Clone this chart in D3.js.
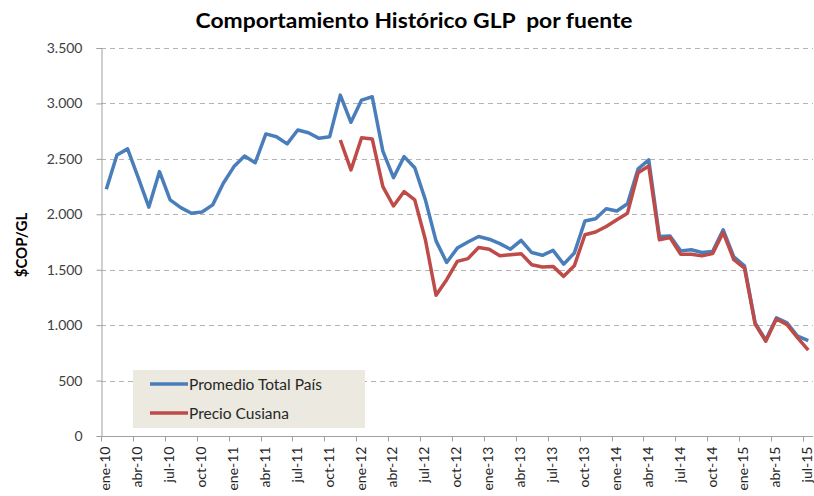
<!DOCTYPE html>
<html>
<head>
<meta charset="utf-8">
<script src="https://cdn.jsdelivr.net/npm/d3@7"></script>
<style>
  body { margin: 0; background: #fff; }
  svg { display: block; font-family: Lato, "Open Sans", sans-serif; }
</style>
</head>
<body>
<svg id="chart" width="814" height="496"></svg>
<script>
const years = ["10", "11", "12", "13", "14", "15"];
const monthNames = ["ene","feb","mar","abr","may","jun","jul","ago","sep","oct","nov","dic"];
const categories = [];
years.forEach(y => monthNames.forEach(m => categories.push(m + "-" + y)));
categories.splice(categories.indexOf("jul-15") + 1);

const promedioTotalPais = [
  2225, 2535, 2590, 2330, 2065, 2385, 2130, 2060, 2010, 2020,
  2085, 2280, 2430, 2525, 2465, 2725, 2700, 2635, 2760, 2735,
  2685, 2700, 3075, 2830, 3030, 3060, 2570, 2330, 2520, 2420,
  2130, 1760, 1565, 1695, 1750, 1800, 1775, 1735, 1685, 1765,
  1655, 1630, 1675, 1550, 1650, 1940, 1960, 2050, 2030, 2095,
  2410, 2490, 1800, 1805, 1670, 1680, 1655, 1665, 1860, 1615,
  1535, 1020, 865, 1065, 1020, 900, 860
];
const precioCusiana = [
  null, null, null, null, null, null, null, null, null, null,
  null, null, null, null, null, null, null, null, null, null,
  null, null, 2670, 2400, 2690, 2680, 2250, 2075, 2205, 2130,
  1770, 1270, 1410, 1575, 1600, 1700, 1685, 1625, 1635, 1645,
  1545, 1525, 1530, 1440, 1535, 1815, 1840, 1890, 1950, 2010,
  2375, 2435, 1770, 1790, 1640, 1640, 1625, 1645, 1835, 1590,
  1515, 1010, 855, 1055, 1005, 885, 775
];
const yTicks = [0, 500, 1000, 1500, 2000, 2500, 3000, 3500];
const seriesNames = ["Promedio Total País", "Precio Cusiana"];
const seriesColors = ["#4a7ebb", "#be4b48"];
const title = "Comportamiento Histórico GLP  por fuente";
const yTitle = "$COP/GL";

const svg = d3.select("#chart");
const m = { left: 101, right: 1, top: 48, bottom: 60 };
const W = 814, H = 496;
const plotRight = W - m.right;
const plotBottom = 436;

const x = d3.scaleBand().domain(categories).range([m.left, m.left + 67 * 10.636]);
const y = d3.scaleLinear().domain([0, 3500]).range([plotBottom, m.top]);
const fmt = v => d3.format(",")(v).replace(/,/g, ".");

// gridlines
svg.append("g").selectAll("line").data(yTicks.filter(d => d > 0)).join("line")
  .attr("x1", m.left).attr("x2", plotRight)
  .attr("y1", d => Math.round(y(d)) + 0.5).attr("y2", d => Math.round(y(d)) + 0.5)
  .attr("stroke", "#b4b4b4").attr("stroke-width", 1).attr("stroke-dasharray", "5,4");

// y axis
const yAxis = svg.append("g").attr("transform", `translate(${m.left + 0.5},0)`)
  .call(d3.axisLeft(y).tickValues(yTicks).tickFormat(fmt).tickSize(5).tickPadding(14));
yAxis.select(".domain").attr("stroke", "#a0a0a0");
yAxis.selectAll(".tick line").attr("stroke", "#a0a0a0");
yAxis.selectAll(".tick text").attr("fill", "#404040").style("font-size", "14px")
  .style("font-family", "Lato, sans-serif");

// x axis
const tickIdx = d3.range(0, 67, 3);
const xAxisG = svg.append("g").attr("transform", `translate(0,${plotBottom + 0.5})`);
xAxisG.append("line").attr("x1", m.left).attr("x2", plotRight).attr("stroke", "#a0a0a0");
xAxisG.selectAll("line.tk").data(tickIdx.concat([66])).join("line").attr("class", "tk")
  .attr("x1", i => Math.round(x(categories[i])) + 0.5).attr("x2", i => Math.round(x(categories[i])) + 0.5)
  .attr("y1", 0).attr("y2", 5).attr("stroke", "#a0a0a0");
xAxisG.selectAll("text").data(tickIdx).join("text")
  .attr("transform", i => `translate(${x(categories[i]) + x.bandwidth() / 2 + 4},10) rotate(-90)`)
  .attr("text-anchor", "end")
  .attr("fill", "#262626").style("font-size", "14px")
  .text(i => categories[i]);

// lines
const line = d3.line()
  .defined(d => d != null)
  .x((d, i) => x(categories[i]) + x.bandwidth() / 2)
  .y(d => y(d));
[promedioTotalPais, precioCusiana].forEach((s, k) => {
  svg.append("path").datum(s).attr("d", line)
    .attr("fill", "none").attr("stroke", seriesColors[k]).attr("stroke-width", 3.5)
    .attr("stroke-linejoin", "round").attr("stroke-linecap", "butt");
});

// legend
const lg = svg.append("g");
lg.append("rect").attr("x", 133).attr("y", 370).attr("width", 232).attr("height", 58).attr("fill", "#ebe9e0");
seriesNames.forEach((n, k) => {
  const yy = 384 + k * 29;
  lg.append("line").attr("x1", 150).attr("x2", 188).attr("y1", yy).attr("y2", yy)
    .attr("stroke", seriesColors[k]).attr("stroke-width", 3.5);
  lg.append("text").attr("x", 189).attr("y", yy + 5.5).attr("fill", "#262626")
    .style("font-size", "15.5px").text(n);
});

// title
svg.append("text").attr("x", 414).attr("y", 28).attr("text-anchor", "middle")
  .style("font-size", "20px").style("font-weight", "bold").attr("fill", "#000")
  .style("white-space", "pre").attr("xml:space", "preserve")
  .attr("textLength", 437).attr("lengthAdjust", "spacingAndGlyphs")
  .text(title);

// y title
svg.append("text").attr("transform", "translate(27,245) rotate(-90)").attr("text-anchor", "middle")
  .style("font-size", "15px").style("font-weight", "bold").attr("fill", "#000").text(yTitle);
</script>
</body>
</html>
